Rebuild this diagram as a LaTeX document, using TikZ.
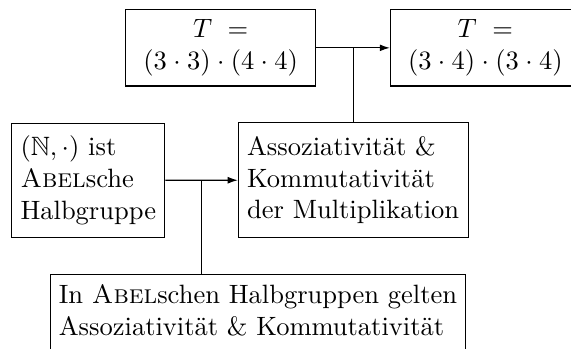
\documentclass[tikz,border=0pt]{standalone}
\usepackage{fontspec}
\usepackage{amssymb}
\usetikzlibrary{arrows.meta,calc}
\begin{document}
\begin{tikzpicture}[x=0.3774pt,y=-0.3774pt,
  box/.style={draw, rectangle, inner sep=0.3333em},
  flow/.style={-{Latex[length=3.8pt,width=2.6pt]}},
]
\useasboundingbox (0,0) rectangle (571,349);
\clip (0,0) rectangle (571,349);

% upper row: the two products
\node[box, text width=65pt, align=center, minimum height=28.8pt] (prod1) at (220.7,47.85)
  {$T=$\\$(3\cdot3)\cdot(4\cdot4)$};
\node[box, text width=65pt, align=center, minimum height=28.8pt] (prod2) at (485.3,47.85)
  {$T=$\\$(3\cdot4)\cdot(3\cdot4)$};

% middle row: premise and consequence
\node[box, align=left, minimum width=57.4pt, minimum height=43.2pt] (abel) at (88.3,180.3)
  {$(\mathbb{N},\cdot)$ ist\\\textsc{Abel}sche\\Halbgruppe};
\node[box, align=left, minimum width=85.9pt, minimum height=43.2pt] (laws) at (353.15,180.2)
  {Assoziativität \&\\Kommutativität\\der Multiplikation};

% lower row: general rule (its lower edge lies below the page)
\node[box, align=left, minimum width=156.8pt, anchor=north] (rule) at (258,274.2)
  {\rule{0pt}{7.7pt}In \textsc{Abel}schen Halbgruppen gelten\\
   Assoziativität \& Kommutativität\rule[-8pt]{0pt}{8pt}};

% junctions on the arrows
\coordinate (j1) at ($(prod1.east)!0.5!(prod2.west)$);
\coordinate (j2) at ($(abel.east)!0.5!(laws.west)$);

\draw[flow] (prod1) -- (prod2);
\draw (laws.north) -- (laws.north |- j1);
\draw[flow] (abel) -- (laws);
\draw (j2 |- rule.north) -- (j2);
\end{tikzpicture}
\end{document}
